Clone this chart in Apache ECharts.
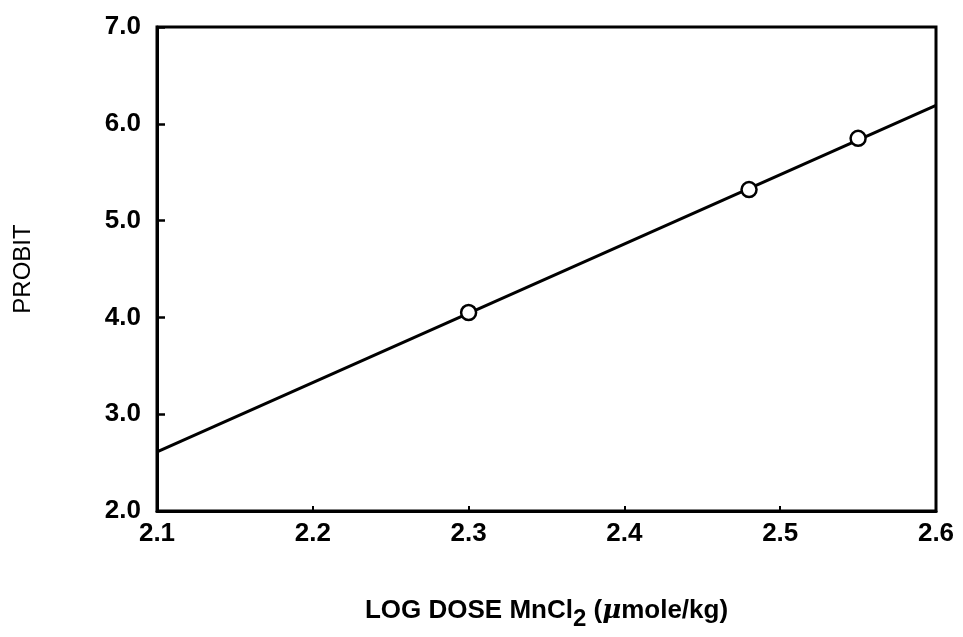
<!DOCTYPE html>
<html>
<head>
<meta charset="utf-8">
<script src="https://cdn.jsdelivr.net/npm/echarts@6/dist/echarts.min.js"></script>
<style>html,body{margin:0;padding:0;background:#fff}#c{width:963px;height:637px}</style>
</head>
<body>
<div id="c"></div>
<script>
// Observed data points (log dose, probit)
const doseLog = [2.30, 2.48, 2.55];
const probit = [4.05, 5.32, 5.85];
// Fitted regression line endpoints (log dose, probit)
const fitX = [2.1, 2.6];
const fitY = [2.61, 6.19];
// Axis ticks
const xTicks = [2.1, 2.2, 2.3, 2.4, 2.5, 2.6];
const yTicks = [2.0, 3.0, 4.0, 5.0, 6.0, 7.0];

const FONT = 'Liberation Sans';
const chart = echarts.init(document.getElementById('c'));
chart.setOption({
  backgroundColor: '#fff',
  animation: false,
  grid: { left: 157, right: 27, top: 27, bottom: 126, show: true, borderColor: '#000', borderWidth: 3, backgroundColor: 'transparent' },
  xAxis: {
    type: 'value', min: xTicks[0], max: xTicks[xTicks.length - 1], interval: 0.1,
    axisLine: { show: true, lineStyle: { color: '#000', width: 3 } },
    axisTick: { show: true, inside: true, length: 5, lineStyle: { color: '#000', width: 2 } },
    splitLine: { show: false },
    axisLabel: { color: '#000', fontFamily: FONT, fontSize: 26, fontWeight: 'bold', margin: 10, formatter: v => v.toFixed(1) },
    name: 'LOG DOSE MnCl{sub|2} ({mu|μ}mole/kg)',
    nameLocation: 'middle', nameGap: 80,
    nameTextStyle: {
      color: '#000', fontFamily: FONT, fontSize: 26, fontWeight: 'bold',
      rich: {
        sub: { fontFamily: FONT, fontSize: 24, fontWeight: 'bold', color: '#000', verticalAlign: 'bottom', padding: [16, 0, 0, 0] },
        mu: { fontFamily: 'DejaVu Serif', fontStyle: 'italic', fontWeight: 'bold', fontSize: 26, color: '#000' }
      }
    }
  },
  yAxis: {
    type: 'value', min: yTicks[0], max: yTicks[yTicks.length - 1], interval: 1,
    axisLine: { show: true, lineStyle: { color: '#000', width: 3 } },
    axisTick: { show: true, inside: true, length: 8, lineStyle: { color: '#000', width: 2.5 } },
    splitLine: { show: false },
    axisLabel: { color: '#000', fontFamily: FONT, fontSize: 26, fontWeight: 'bold', margin: 16, formatter: v => v.toFixed(1) },
    name: 'PROBIT', nameLocation: 'middle', nameGap: 122, nameRotate: 90,
    nameTextStyle: { color: '#000', fontFamily: FONT, fontSize: 24 }
  },
  series: [
    {
      type: 'line', data: fitX.map((x, i) => [x, fitY[i]]), symbol: 'none',
      lineStyle: { color: '#000', width: 3 }, z: 2
    },
    {
      type: 'scatter', data: doseLog.map((x, i) => [x, probit[i]]),
      symbol: 'circle', symbolSize: 15,
      itemStyle: { color: '#fff', borderColor: '#000', borderWidth: 2.5, opacity: 1 }, z: 3
    }
  ]
});
</script>
</body>
</html>
